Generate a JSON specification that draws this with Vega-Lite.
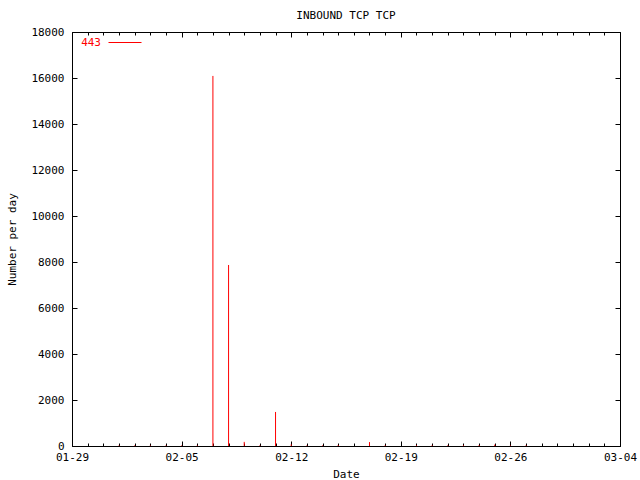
{
  "$schema": "https://vega.github.io/schema/vega-lite/v6.json",
  "width": 548,
  "height": 414,
  "autosize": {"type": "none"},
  "padding": {"left": 72, "top": 32, "right": 20, "bottom": 34},
  "background": "white",
  "config": {
    "font": "DejaVu Sans Mono",
    "view": {"stroke": "black", "strokeWidth": 1},
    "axis": {"grid": false, "domain": false, "labelFontSize": 11, "labelColor": "black", "titleFontSize": 11, "titleFontWeight": "normal", "titleColor": "black", "tickColor": "black", "tickWidth": 1}
  },
  "title": {"text": "INBOUND TCP TCP", "fontSize": 11, "fontWeight": "normal", "color": "black", "anchor": "middle", "offset": 5},
  "data": {"values": [
    {"date": "2012-02-01", "count": 25, "series": "443"},
    {"date": "2012-02-02", "count": 25, "series": "443"},
    {"date": "2012-02-03", "count": 25, "series": "443"},
    {"date": "2012-02-04", "count": 25, "series": "443"},
    {"date": "2012-02-05", "count": 25, "series": "443"},
    {"date": "2012-02-06", "count": 25, "series": "443"},
    {"date": "2012-02-07", "count": 16090, "series": "443"},
    {"date": "2012-02-08", "count": 7870, "series": "443"},
    {"date": "2012-02-09", "count": 180, "series": "443"},
    {"date": "2012-02-10", "count": 30, "series": "443"},
    {"date": "2012-02-11", "count": 1480, "series": "443"},
    {"date": "2012-02-12", "count": 70, "series": "443"},
    {"date": "2012-02-13", "count": 25, "series": "443"},
    {"date": "2012-02-14", "count": 25, "series": "443"},
    {"date": "2012-02-15", "count": 40, "series": "443"},
    {"date": "2012-02-17", "count": 170, "series": "443"},
    {"date": "2012-02-18", "count": 30, "series": "443"},
    {"date": "2012-02-20", "count": 30, "series": "443"},
    {"date": "2012-02-21", "count": 30, "series": "443"},
    {"date": "2012-02-22", "count": 30, "series": "443"},
    {"date": "2012-02-23", "count": 30, "series": "443"},
    {"date": "2012-02-24", "count": 40, "series": "443"},
    {"date": "2012-02-25", "count": 60, "series": "443"},
    {"date": "2012-02-26", "count": 25, "series": "443"},
    {"date": "2012-02-27", "count": 30, "series": "443"}
  ]},
  "layer": [
    {
      "mark": {"type": "rule", "strokeWidth": 1},
      "encoding": {
        "x": {"field": "date", "type": "temporal",
          "scale": {"type": "utc", "nice": false, "domain": [{"year": 2012, "month": 1, "date": 29, "utc": true}, {"year": 2012, "month": 3, "date": 4, "utc": true}]},
          "axis": {"orient": "bottom", "tickCount": "week", "labelExpr": "utcFormat(datum.value, '%m-%d')", "tickSize": -5, "labelPadding": 10, "title": "Date", "titlePadding": 6, "labelFlush": false, "labelOverlap": false}},
        "y": {"field": "count", "type": "quantitative",
          "scale": {"domain": [0, 18000], "nice": false},
          "axis": {"orient": "left", "values": [0, 2000, 4000, 6000, 8000, 10000, 12000, 14000, 16000, 18000], "format": "d", "tickSize": -5, "labelPadding": 13, "title": "Number per day", "titlePadding": 13, "labelFlush": false, "labelOverlap": false}},
        "y2": {"datum": 0},
        "color": {"field": "series", "type": "nominal",
          "scale": {"range": ["#ff0000"]},
          "legend": {"orient": "none", "legendX": 36, "legendY": -6.5, "title": null, "symbolType": "stroke", "symbolSize": 1089, "symbolStrokeWidth": 1, "labelFontSize": 11, "labelColor": "#ff0000", "labelAlign": "right", "labelOffset": -41, "padding": 0}}
      }
    },
    {
      "mark": {"type": "rule", "opacity": 0},
      "encoding": {
        "x": {"field": "date", "type": "temporal",
          "axis": {"orient": "bottom", "tickCount": "day", "labels": false, "tickSize": -3, "title": null}},
        "y": {"field": "count", "type": "quantitative",
          "axis": {"orient": "right", "values": [0, 2000, 4000, 6000, 8000, 10000, 12000, 14000, 16000, 18000], "labels": false, "tickSize": -5, "title": null}},
        "y2": {"datum": 0}
      }
    },
    {
      "mark": {"type": "rule", "opacity": 0},
      "encoding": {
        "x": {"field": "date", "type": "temporal",
          "axis": {"orient": "top", "tickCount": "week", "labels": false, "tickSize": -5, "title": null}},
        "y": {"field": "count", "type": "quantitative", "axis": null},
        "y2": {"datum": 0}
      }
    },
    {
      "mark": {"type": "rule", "opacity": 0},
      "encoding": {
        "x": {"field": "date", "type": "temporal",
          "axis": {"orient": "top", "tickCount": "day", "labels": false, "tickSize": -3, "title": null}},
        "y": {"field": "count", "type": "quantitative", "axis": null},
        "y2": {"datum": 0}
      }
    }
  ],
  "resolve": {"axis": {"x": "independent", "y": "independent"}}
}
